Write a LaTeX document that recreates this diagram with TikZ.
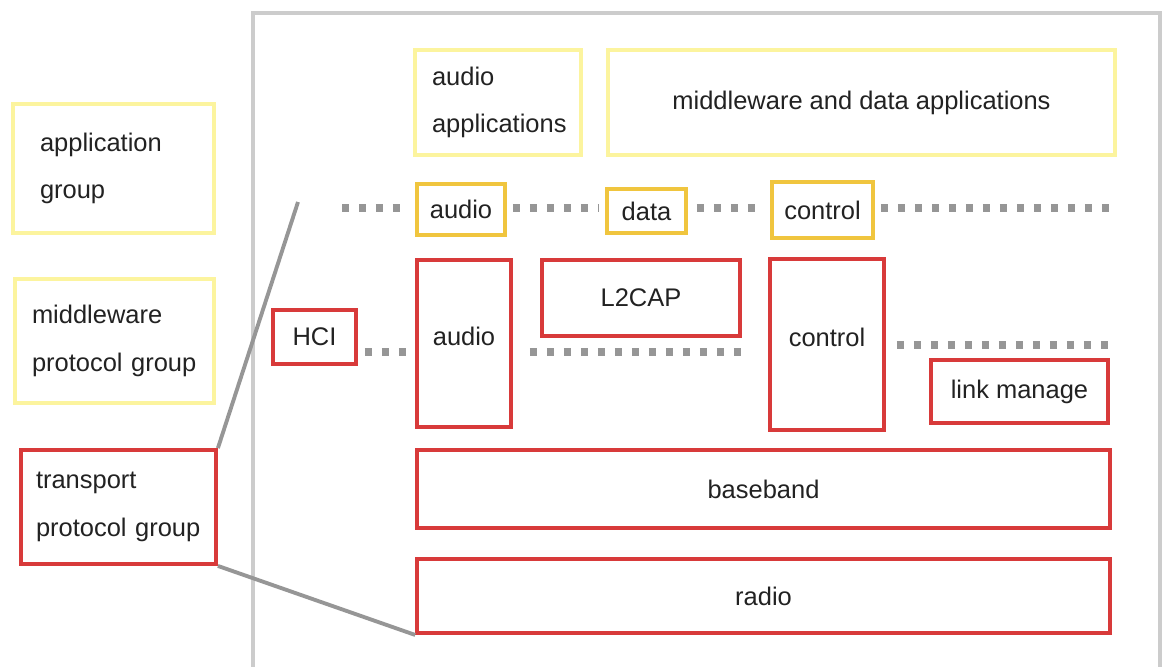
\documentclass[tikz,border=0pt]{standalone}
\usepackage{fontspec}
\setmainfont{Liberation Sans}
\usetikzlibrary{calc}
\definecolor{paley}{RGB}{252,244,158}
\definecolor{goldy}{RGB}{240,197,62}
\definecolor{redb}{RGB}{216,58,58}
\definecolor{frameg}{RGB}{204,204,204}
\definecolor{dotg}{RGB}{150,150,150}
\definecolor{txt}{RGB}{34,34,34}
\tikzset{
  box/.style   ={draw,line width=2.2pt,inner sep=0pt,align=center,text=txt,
                 font=\fontsize{14.5}{27}\selectfont},
  ybox/.style  ={box,draw=paley},
  gbox/.style  ={box,draw=goldy},
  rbox/.style  ={box,draw=redb},
  lbox/.style  ={align=left,inner ysep=0pt},
  dline/.style ={draw=dotg,line width=4pt,dash pattern=on 0.14cm off 0.2cm},
  gline/.style ={draw=dotg,line width=2.2pt},
}

\begin{document}
\begin{tikzpicture}[x=0.02cm,y=-0.02cm]
  \useasboundingbox (0,0) rectangle (1165,666);

  % ---------- frame ----------
  \draw[frameg,line width=2.4pt] (253,670) |- (1160,13) -- (1160,670);

  % ---------- left: groups ----------
  \node[ybox,lbox,minimum width=4.02cm,minimum height=2.58cm,inner xsep=.54cm,text width=2.94cm]
    (appg) at (113.5,168.5) {application\\group};
  \node[ybox,lbox,minimum width=3.98cm,minimum height=2.48cm,inner xsep=.3cm,text width=3.3cm]
    (mwg) at (114.5,341) {middleware\\protocol group};
  \node[rbox,lbox,minimum width=3.9cm,minimum height=2.28cm,inner xsep=.3cm,text width=3.3cm]
    (trg) at (118.5,507) {transport\\protocol group};

  % ---------- applications ----------
  \node[ybox,lbox,minimum width=3.32cm,minimum height=2.1cm,inner xsep=.34cm,text width=2.64cm]
    (audapp) at (498,102.5) {audio\\applications};
  \node[ybox,minimum width=10.14cm,minimum height=2.1cm] (mwapp) at (861.5,102.5)
    {middleware and data applications};

  % ---------- service points ----------
  \node[gbox,minimum width=1.76cm,minimum height=1.02cm] (auds) at (461,209.5) {audio};
  \node[gbox,minimum width=1.58cm,minimum height=0.88cm] (dats) at (646.5,211) {data};
  \node[gbox,minimum width=2.02cm,minimum height=1.12cm] (ctls) at (822.5,210) {control};

  % ---------- transport stack ----------
  \node[rbox,minimum width=1.66cm,minimum height=1.08cm] (hci) at (314.5,337) {HCI};
  \node[rbox,minimum width=1.88cm,minimum height=3.34cm,text depth=.28cm] (aud) at (464,343.5) {audio};
  \node[rbox,minimum width=3.96cm,minimum height=1.52cm] (l2cap) at (641,298) {L2CAP};
  \node[rbox,minimum width=2.28cm,minimum height=3.42cm,text depth=.28cm] (ctl) at (827,344.5) {control};
  \node[rbox,minimum width=3.54cm,minimum height=1.26cm] (lmp) at (1019.5,391.5) {link manage};
  \node[rbox,minimum width=13.86cm,minimum height=1.56cm] (bb) at (763.5,489) {baseband};
  \node[rbox,minimum width=13.86cm,minimum height=1.48cm] (rad) at (763.5,596) {radio};

  \coordinate (tl) at (342,208);
  \coordinate (tr) at (1117,208);
  \coordinate (mr) at (1117,345);
  \coordinate (zl) at (298,202);

  % ---------- dotted borders ----------
  \draw[dline] (tl) -- ([xshift=-.26cm]tl -| auds.west);
  \draw[dline,shorten <=.12cm,shorten >=.12cm] (auds.east |- tl) -- (dats.west |- tl);
  \draw[dline,shorten <=.18cm,shorten >=.14cm] (dats.east |- tl) -- (ctls.west |- tl);
  \draw[dline,shorten <=.12cm] (ctls.east |- tl) -- (tr);
  \draw[dline,shorten <=.14cm,shorten >=.14cm] ([yshift=-.3cm]hci.east) -- ([yshift=-.3cm]hci.east -| aud.west);
  \draw[dline,shorten <=.34cm,shorten >=.36cm] ([yshift=-.17cm]aud.east) -- ([yshift=-.17cm]aud.east -| ctl.west);
  \draw[dline,shorten <=.22cm] (ctl.east |- mr) -- (mr);

  % ---------- zoom lines ----------
  \draw[gline] (zl) -- (trg.north east);
  \draw[gline] (trg.south east) -- (rad.south west);

\end{tikzpicture}
\end{document}
